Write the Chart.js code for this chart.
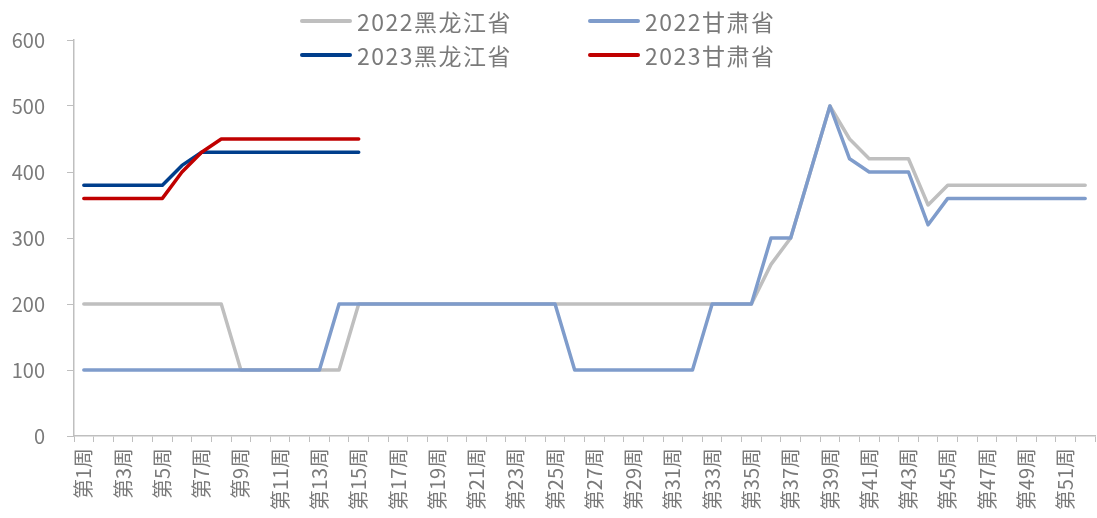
<!DOCTYPE html>
<html>
  <head>
    <meta charset="utf-8">
    <title>黑龙江省 甘肃省 周度</title>
    <script src="https://cdn.jsdelivr.net/npm/chart.js@4/dist/chart.umd.min.js"></script>
    <style>
      body { margin: 0; background: #fff; }
      #wrap { position: relative; width: 1097px; height: 518px; }
      #legend {
        position: absolute; left: 300px; top: 4px;
        display: grid; grid-template-columns: 288px 288px; grid-auto-rows: 34px;
        font-family: "Noto Sans CJK SC", "Liberation Sans", sans-serif;
        font-size: 23px; letter-spacing: 1.5px; color: #7a7a7a;
      }
      #legend .item { display: flex; align-items: center; }
      #legend .swatch { width: 52px; height: 4px; border-radius: 2px; margin-right: 5px; }
    </style>
  </head>

  <body>
    <div id="wrap">
      <canvas id="canvas"></canvas>
      <div id="legend"></div>
    </div>
    <script>
      // 第1周 .. 第52周
      const weeks = [];
      for (let i = 1; i <= 52; i++) weeks.push('第' + i + '周');

      const hlj2022 = [
        200, 200, 200, 200, 200, 200, 200, 200,
        100, 100, 100, 100, 100, 100,
        200, 200, 200, 200, 200, 200, 200, 200, 200, 200, 200,
        200, 200, 200, 200, 200, 200, 200, 200, 200, 200,
        260, 300, 400, 500, 450, 420, 420, 420, 350,
        380, 380, 380, 380, 380, 380, 380, 380,
      ];
      const gs2022 = [
        100, 100, 100, 100, 100, 100, 100, 100, 100, 100, 100, 100, 100,
        200, 200, 200, 200, 200, 200, 200, 200, 200, 200, 200, 200,
        100, 100, 100, 100, 100, 100, 100,
        200, 200, 200,
        300, 300, 400, 500, 420, 400, 400, 400, 320,
        360, 360, 360, 360, 360, 360, 360, 360,
      ];
      const hlj2023 = [380, 380, 380, 380, 380, 410, 430, 430, 430, 430, 430, 430, 430, 430, 430];
      const gs2023 = [360, 360, 360, 360, 360, 400, 430, 450, 450, 450, 450, 450, 450, 450, 450];

      const seriesNames = ['2022黑龙江省', '2022甘肃省', '2023黑龙江省', '2023甘肃省'];
      const seriesColors = ['#bfbfbf', '#7f9ccb', '#003e8c', '#c00000'];
      const seriesData = [hlj2022, gs2022, hlj2023, gs2023];

      const textColor = '#7a7a7a';
      const axisColor = '#bfbfbf';
      const fontFamily = '"Noto Sans CJK SC", "Liberation Sans", sans-serif';

      // html legend, 2 x 2 like the original
      const legendEl = document.getElementById('legend');
      seriesNames.forEach((name, i) => {
        const item = document.createElement('div');
        item.className = 'item';
        item.innerHTML = '<span class="swatch" style="background:' + seriesColors[i] + '"></span>' + name;
        legendEl.appendChild(item);
      });

      const ctx = document.getElementById('canvas').getContext('2d');
      new Chart(ctx, {
        type: 'line',
        data: {
          labels: weeks,
          datasets: seriesData.map((d, i) => ({
            label: seriesNames[i],
            data: d,
            borderColor: seriesColors[i],
            backgroundColor: seriesColors[i],
            borderWidth: 3.5,
            pointRadius: 0,
            tension: 0,
            borderCapStyle: 'round',
            borderJoinStyle: 'round',
            order: 4 - i,
          })),
        },
        options: {
          responsive: true,
          maintainAspectRatio: false,
          animation: false,
          layout: { padding: { top: 40, right: 2, left: 0, bottom: 0 } },
          plugins: {
            legend: { display: false },
            tooltip: { enabled: false },
          },
          scales: {
            x: {
              offset: true,
              grid: {
                offset: true,
                drawOnChartArea: false,
                color: axisColor,
                tickLength: 6,
                tickColor: axisColor,
              },
              border: { color: axisColor, width: 1.5 },
              ticks: {
                autoSkip: false,
                maxRotation: 90,
                minRotation: 90,
                padding: 6,
                color: textColor,
                font: { family: fontFamily, size: 20 },
                callback: function (val, i) {
                  return i % 2 === 0 ? this.getLabelForValue(val) : '';
                },
              },
              afterFit: (s) => {
                s.height = 82;
                s.paddingLeft = 0;
                s.paddingRight = 0;
              },
            },
            y: {
              min: 0,
              max: 600,
              grid: {
                drawOnChartArea: false,
                color: axisColor,
                tickLength: 7,
                tickColor: axisColor,
              },
              border: { color: axisColor, width: 1.5 },
              ticks: {
                stepSize: 100,
                padding: 22,
                color: textColor,
                font: { family: fontFamily, size: 20 },
              },
              afterFit: (s) => { s.width = 74; },
            },
          },
        },
      });
    </script>
  </body>
</html>
